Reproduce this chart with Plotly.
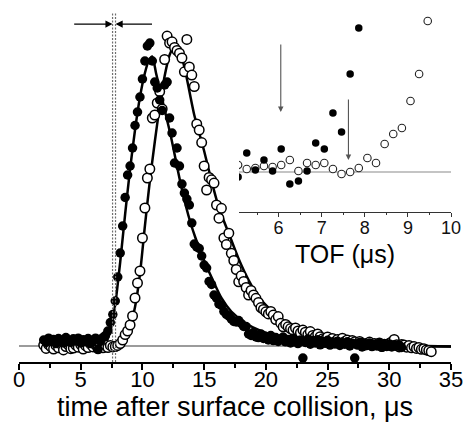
import plotly.graph_objects as go

# ---------------- main panel data (signal in arbitrary units) ----------------
t_filled = [2.0, 2.2, 2.4, 2.6, 2.8, 3.0, 3.2, 3.4, 3.6, 3.8, 4.0, 4.2, 4.4, 4.6, 4.8,
            5.0, 5.2, 5.4, 5.6, 5.8, 6.0, 6.2, 6.4, 6.6, 6.8, 7.0, 7.2, 7.4, 7.6, 7.8,
            8.0, 8.2, 8.4, 8.6, 8.8, 9.0, 9.2, 9.4, 9.6, 9.8, 10.0, 10.2, 10.4, 10.6, 10.8,
            11.0, 11.2, 11.4, 11.6, 11.8, 12.0, 12.2, 12.4, 12.6, 12.8, 13.0, 13.2, 13.4, 13.6, 13.8,
            14.0, 14.2, 14.4, 14.6, 14.8, 15.0, 15.2, 15.4, 15.6, 15.8, 16.0, 16.2, 16.4, 16.6, 16.8,
            17.0, 17.2, 17.4, 17.6, 17.8, 18.0, 18.2, 18.4, 18.6, 18.8, 19.0, 19.2, 19.4, 19.6, 19.8,
            20.0, 20.2, 20.4, 20.6, 20.8, 21.0, 21.2, 21.4, 21.6, 21.8, 22.0, 22.2, 22.4, 22.6, 22.8,
            23.0, 23.2, 23.4, 23.6, 23.8, 24.0, 24.2, 24.4, 24.6, 24.8, 25.0, 25.2, 25.4, 25.6, 25.8,
            26.0, 26.2, 26.4, 26.6, 26.8, 27.0, 27.2, 27.4, 27.6, 27.8, 28.0, 28.2, 28.4, 28.6, 28.8,
            29.0, 29.2, 29.4, 29.6, 29.8, 30.0, 30.2, 30.4, 30.6, 30.8, 31.0]
s_filled = [2.0, 1.2, 2.6, 1.6, 2.2, 0.8, 2.5, 1.8, 1.0, 2.8, 1.5, 1.2, 2.4, 1.7, 2.6,
            1.0, 2.1, 1.4, 2.5, 0.8, 1.8, 2.6, -1.2, 1.5, 2.8, 3.5, 5.0, 7.8, 10.5, 15.0,
            23.0, 31.0, 40.0, 49.5, 57.0, 60.0, 66.0, 73.5, 78.0, 83.0, 89.0, 95.0, 100.0, 101.0, 95.0,
            88.0, 86.0, 82.0, 78.5, 87.0, 88.0, 76.0, 71.0, 61.0, 66.0, 60.0, 54.0, 51.0, 49.0, 47.0,
            41.0, 34.0, 33.0, 32.5, 30.0, 27.0, 26.0, 21.5, 20.5, 17.0, 16.0, 14.0, 13.5, 11.5, 10.5,
            10.0, 9.0, 8.2, 8.0, 8.5, 7.5, 6.5, 6.5, 4.0, 3.5, 4.5, 3.0, 2.8, 4.0, 2.5,
            3.2, 2.0, 3.5, 1.8, 2.8, 1.5, 2.4, 3.0, 1.4, 2.2, 1.0, 2.6, 1.5, 0.8, 2.0,
            -4.0, 1.2, 2.3, 0.6, 1.8, 1.0, 2.1, 0.4, 1.5, 0.9, 1.9, 0.3, 1.3, 0.7, 1.6,
            0.2, 1.1, 0.6, 1.4, 0.0, 0.9, -4.0, 0.5, 1.2, -0.3, 0.8, 0.2, 1.0, -0.2, 0.6,
            0.1, 0.9, -0.4, 0.5, 0.0, 0.7, -0.3, 0.4, -0.1, 0.3, -0.5]

t_open = [2.0, 2.2, 2.4, 2.6, 2.8, 3.0, 3.2, 3.4, 3.6, 3.8, 4.0, 4.2, 4.4, 4.6, 4.8,
          5.0, 5.2, 5.4, 5.6, 5.8, 6.0, 6.2, 6.4, 6.6, 6.8, 7.0, 7.2, 7.4, 7.6, 7.8,
          8.0, 8.2, 8.4, 8.6, 8.8, 9.0, 9.2, 9.4, 9.6, 9.8, 10.0, 10.2, 10.4, 10.6, 10.8,
          11.0, 11.2, 11.4, 11.6, 11.8, 12.0, 12.2, 12.4, 12.6, 12.8, 13.0, 13.2, 13.4, 13.6, 13.8,
          14.0, 14.2, 14.4, 14.6, 14.8, 15.0, 15.2, 15.4, 15.6, 15.8, 16.0, 16.2, 16.4, 16.6, 16.8,
          17.0, 17.2, 17.4, 17.6, 17.8, 18.0, 18.2, 18.4, 18.6, 18.8, 19.0, 19.2, 19.4, 19.6, 19.8,
          20.0, 20.2, 20.4, 20.6, 20.8, 21.0, 21.2, 21.4, 21.6, 21.8, 22.0, 22.2, 22.4, 22.6, 22.8,
          23.0, 23.2, 23.4, 23.6, 23.8, 24.0, 24.2, 24.4, 24.6, 24.8, 25.0, 25.2, 25.4, 25.6, 25.8,
          26.0, 26.2, 26.4, 26.6, 26.8, 27.0, 27.2, 27.4, 27.6, 27.8, 28.0, 28.2, 28.4, 28.6, 28.8,
          29.0, 29.2, 29.4, 29.6, 29.8, 30.0, 30.2, 30.4, 30.6, 30.8, 31.0, 31.2, 31.4, 31.6, 31.8,
          32.0, 32.2, 32.4, 32.6, 32.8, 33.0, 33.2, 33.4]
s_open = [0.3, -0.8, 0.5, -0.3, -1.0, 0.2, -0.6, 0.6, -1.3, -0.2, 0.4, -0.9, -0.7, 0.3, -0.4,
          0.5, -1.0, 0.1, -0.5, 0.6, -0.3, 0.4, -0.8, 0.2, -0.6, 0.3, -0.5, 0.2, -0.3, -0.2,
          0.2, 0.8, 2.0, 3.8, 5.0, 7.0, 10.0, 16.0, 21.0, 25.0, 36.0, 46.0, 56.0, 59.0, 76.0,
          77.0, 81.0, 84.8, 79.0, 95.5, 103.3, 101.0, 101.4, 99.5, 98.5, 97.6, 96.0, 91.4, 102.2, 93.0,
          90.3, 86.5, 74.0, 72.0, 67.8, 60.0, 52.0, 56.2, 55.4, 54.3, 47.0, 42.6, 45.9, 36.0, 33.8,
          37.6, 30.9, 28.5, 25.5, 21.4, 23.4, 21.5, 19.5, 17.0, 18.5, 17.0, 15.9, 14.5, 12.8, 12.2,
          11.4, 10.7, 11.5, 10.3, 8.8, 9.8, 7.6, 6.4, 7.2, 6.4, 5.8, 5.3, 6.0, 5.0, 4.4,
          5.3, 4.6, 3.8, 4.8, 3.5, 3.1, 4.0, 3.1, 2.4, 2.2, 3.0, 1.8, 2.5, 1.4, 2.2,
          1.2, 2.6, 1.5, 2.0, 0.9, 1.8, 1.4, 0.6, 1.5, 0.9, 0.3, 0.9, 1.3, 0.2, 0.8,
          0.3, 1.0, -0.2, 0.6, 0.1, 0.9, 1.4, 2.2, 0.4, -0.3, 0.5, 0.3, -0.4, 0.2, -0.6,
          -0.2, -0.8, -0.5, -1.1, -0.9, -1.3, -1.5, -1.9]

# fitted curves
fit_filled_t = [6.6, 7.0, 7.4, 7.8, 8.2, 8.6, 9.0, 9.4, 9.8, 10.2, 10.5, 10.8, 11.1, 11.5, 11.9,
                12.3, 12.7, 13.1, 13.5, 13.9, 14.3, 14.7, 15.1, 15.7, 16.4, 17.2, 18.4, 19.6, 21.0,
                23.0, 25.0, 28.0, 31.0, 35.0]
fit_filled = [0.0, 0.8, 5.0, 14.0, 28.0, 44.0, 59.0, 72.0, 83.0, 91.0, 95.0, 96.5, 91.0, 84.0, 77.0,
              70.0, 62.0, 54.0, 47.0, 41.0, 36.0, 31.5, 27.5, 22.0, 16.0, 11.5, 7.5, 5.0, 3.1,
              1.6, 0.6, 0.1, -0.1, -0.2]
fit_open_t = [7.4, 7.8, 8.2, 8.6, 9.0, 9.4, 9.8, 10.2, 10.6, 11.0, 11.4, 11.8, 12.2, 12.6, 13.0,
              13.4, 13.8, 14.2, 14.6, 15.0, 15.6, 16.2, 17.0, 17.8, 18.6, 19.4, 20.4, 21.4, 22.4,
              23.4, 24.6, 26.0, 28.0, 30.0, 32.0, 35.0]
fit_open = [0.0, 0.1, 0.8, 2.8, 6.5, 13.0, 24.0, 40.0, 55.0, 68.0, 80.0, 90.0, 97.0, 100.0, 98.5,
            93.0, 85.0, 77.0, 71.0, 65.0, 55.0, 46.0, 37.5, 29.0, 22.0, 16.5, 12.0, 8.5, 6.0,
            4.4, 3.0, 2.0, 1.0, 0.4, 0.1, -0.2]

baseline_t = [0, 35]
window_edges = [7.58, 7.82]          # dashed vertical lines
window_span = [-5.3, 111.0]
window_arrow_y = 107.3
window_arrow_tails = [4.35, 10.9]

# ---------------- inset data ----------------
tof_filled = [5.06, 5.26, 5.46, 5.66, 5.86, 6.06, 6.26, 6.46, 6.66, 6.86, 7.06, 7.26, 7.46, 7.66, 7.86]
ins_filled = [-0.5, 1.9, 0.2, 1.2, 0.1, 2.3, -1.2, -0.9, 0.1, 2.9, 2.3, 5.9, 4.0, 9.8, 14.4]
tof_open = [5.06, 5.26, 5.46, 5.66, 5.86, 6.06, 6.26, 6.46, 6.66, 6.86, 7.06, 7.26, 7.46, 7.66,
            7.86, 8.06, 8.26, 8.46, 8.66, 8.86, 9.06, 9.26, 9.46]
ins_open = [0.7, 0.3, 0.4, 0.6, 0.5, 0.7, 1.2, 0.1, 0.9, 0.7, 0.9, 0.3, -0.2, 0.0,
            0.4, 1.4, 0.9, 2.8, 3.8, 4.4, 7.1, 9.8, 15.1]
inset_baseline_t = [5.08, 10]
inset_arrow_t = [6.05, 7.62]
inset_arrow_tail = [12.9, 7.4]
inset_arrow_head = [6.0, 1.2]

FONT = "Liberation Sans, Arial, sans-serif"

fig = go.Figure()

# baseline
fig.add_trace(go.Scatter(x=baseline_t, y=[0, 0], mode="lines",
                         line=dict(color="#7a7a7a", width=1.3), hoverinfo="skip"))
# fitted curves
fig.add_trace(go.Scatter(x=fit_filled_t, y=fit_filled, mode="lines",
                         line=dict(color="black", width=2.5, shape="spline", smoothing=0.6)))
fig.add_trace(go.Scatter(x=fit_open_t, y=fit_open, mode="lines",
                         line=dict(color="black", width=2.5, shape="spline", smoothing=0.6)))
# data
fig.add_trace(go.Scatter(x=t_open, y=s_open, mode="markers",
                         marker=dict(size=9.5, color="white", line=dict(color="black", width=1.5)),
                         cliponaxis=False))
fig.add_trace(go.Scatter(x=t_filled, y=s_filled, mode="markers",
                         marker=dict(size=9.5, color="black", line=dict(width=0)),
                         cliponaxis=False))

# inset
fig.add_trace(go.Scatter(x=inset_baseline_t, y=[0, 0], mode="lines", xaxis="x2", yaxis="y2",
                         line=dict(color="#8a8a8a", width=1.2)))
fig.add_trace(go.Scatter(x=tof_open, y=ins_open, mode="markers", xaxis="x2", yaxis="y2",
                         marker=dict(size=7.5, color="white", line=dict(color="#222", width=1.1))))
fig.add_trace(go.Scatter(x=tof_filled, y=ins_filled, mode="markers", xaxis="x2", yaxis="y2",
                         marker=dict(size=7.5, color="black", line=dict(width=0))))

shapes = []
for xe in window_edges:
    shapes.append(dict(type="line", xref="x", yref="y", x0=xe, x1=xe,
                       y0=window_span[0], y1=window_span[1],
                       line=dict(color="#6e6e6e", width=1.2, dash="2px,1.5px")))

annotations = []
for xe, tail in zip(window_edges, window_arrow_tails):
    annotations.append(dict(x=xe, y=window_arrow_y, ax=tail, ay=window_arrow_y,
                            xref="x", yref="y", axref="x", ayref="y", text="",
                            showarrow=True, arrowhead=2, arrowsize=1.1, arrowwidth=1.3,
                            arrowcolor="black", standoff=0, startstandoff=0))
for xa, tail, head in zip(inset_arrow_t, inset_arrow_tail, inset_arrow_head):
    annotations.append(dict(x=xa, y=head, ax=xa, ay=tail,
                            xref="x2", yref="y2", axref="x2", ayref="y2", text="",
                            showarrow=True, arrowhead=2, arrowsize=1.0, arrowwidth=1.1,
                            arrowcolor="#555", standoff=0, startstandoff=0))

fig.update_layout(
    width=463, height=422,
    margin=dict(l=19, r=10, t=0, b=60),
    paper_bgcolor="white", plot_bgcolor="rgba(0,0,0,0)",
    showlegend=False,
    font=dict(family=FONT, color="black"),
    shapes=shapes, annotations=annotations,
    xaxis=dict(range=[0, 35], domain=[0, 1], anchor="y",
               showline=True, linecolor="black", linewidth=1.5,
               ticks="outside", ticklen=6, tickwidth=1.5, tickcolor="black",
               tick0=0, dtick=5, showgrid=False, zeroline=False,
               ticklabeloverflow="allow", ticklabelstandoff=-9,
               minor=dict(ticks="outside", dtick=2.5, ticklen=4, tickwidth=1.5, tickcolor="black"),
               tickfont=dict(size=22, family=FONT),
               title=dict(text="time after surface collision, μs", font=dict(size=27, family=FONT),
                          standoff=5)),
    yaxis=dict(range=[-5.33, 115.33], domain=[0, 1], visible=False, anchor="x"),
    xaxis2=dict(range=[5.08, 10], domain=[0.5092, 1], anchor="y2",
                showline=True, linecolor="#333", linewidth=1,
                ticks="outside", ticklen=4, tickwidth=1, tickcolor="#333",
                tick0=0, dtick=1, showgrid=False, zeroline=False,
                ticklabeloverflow="allow", ticklabelstandoff=-5,
                minor=dict(ticks="outside", dtick=0.5, ticklen=2.5, tickwidth=1, tickcolor="#333"),
                tickfont=dict(size=18, family=FONT, color="#111"),
                title=dict(text="TOF (μs)", font=dict(size=25, family=FONT), standoff=8)),
    yaxis2=dict(range=[-4, 17.2], domain=[0.4144, 1], visible=False, anchor="x2"),
)

fig.write_html("out.html")
